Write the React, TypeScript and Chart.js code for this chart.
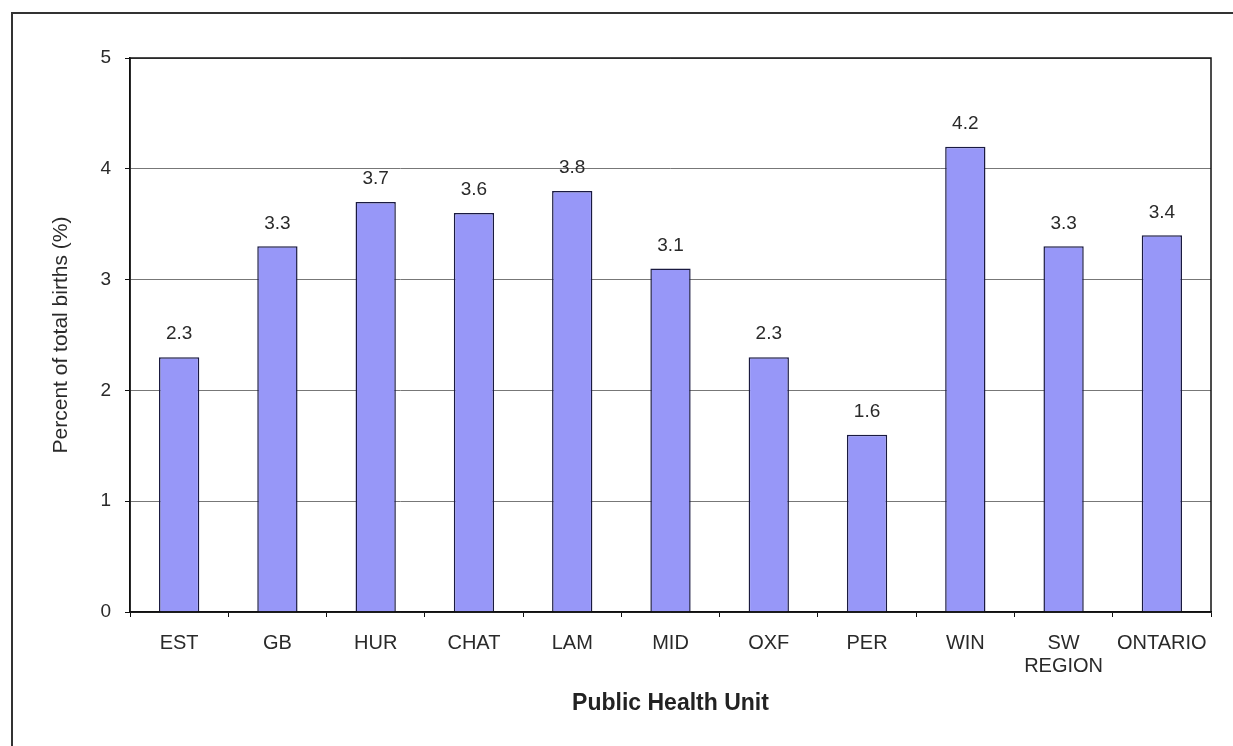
import React, { useEffect, useRef } from "react";
import { Chart, registerables } from "chart.js";

Chart.register(...registerables);

const categories: (string | string[])[] = [
  "EST", "GB", "HUR", "CHAT", "LAM", "MID", "OXF", "PER", "WIN", ["SW", "REGION"], "ONTARIO",
];
const values: number[] = [2.3, 3.3, 3.7, 3.6, 3.8, 3.1, 2.3, 1.6, 4.2, 3.3, 3.4];
const yTicks: number[] = [0, 1, 2, 3, 4, 5];
const xTitle = "Public Health Unit";
const yTitle = "Percent of total births (%)";

const FONT = "'Liberation Sans', Arial, sans-serif";

const valueLabels = {
  id: "valueLabels",
  afterDatasetsDraw(chart: any) {
    const { ctx } = chart;
    const meta = chart.getDatasetMeta(0);
    ctx.save();
    ctx.font = `19px ${FONT}`;
    ctx.fillStyle = "#2a2a2a";
    ctx.textAlign = "center";
    ctx.textBaseline = "middle";
    meta.data.forEach((bar: any, i: number) => {
      ctx.fillText(values[i].toFixed(1), bar.x, bar.y - 23);
    });
    ctx.restore();
  },
};

const frame = {
  id: "frame",
  afterDraw(chart: any) {
    const { ctx, chartArea } = chart;
    ctx.save();
    ctx.strokeStyle = "#111";
    ctx.lineWidth = 1.5;
    ctx.strokeRect(chartArea.left, chartArea.top, chartArea.right - chartArea.left, chartArea.bottom - chartArea.top);
    ctx.restore();
  },
};

export default function App() {
  const ref = useRef<HTMLCanvasElement | null>(null);
  useEffect(() => {
    document.body.style.margin = "0";
    document.body.style.overflow = "hidden";
    const chart = new Chart(ref.current as HTMLCanvasElement, {
      type: "bar",
      data: {
        labels: categories,
        datasets: [
          {
            data: values,
            backgroundColor: "#9797f8",
            borderColor: "#1a1a40",
            borderWidth: 1.5,
            barPercentage: 0.41,
            categoryPercentage: 1,
          },
        ],
      },
      options: {
        responsive: false,
        animation: false,
        layout: { padding: { left: 0, right: 22, top: 58, bottom: 0 } },
        plugins: { legend: { display: false }, tooltip: { enabled: false } },
        scales: {
          x: {
            offset: true,
            grid: {
              offset: true,
              drawOnChartArea: false,
              drawTicks: true,
              tickLength: 5,
              color: "#111",
            },
            border: { display: true, color: "#111", width: 1.5 },
            ticks: {
              color: "#2a2a2a",
              font: { family: FONT, size: 20, lineHeight: 1.15 },
              padding: 15,
              maxRotation: 0,
              autoSkip: false,
            },
            title: {
              display: true,
              text: xTitle,
              color: "#222",
              font: { family: FONT, size: 23, weight: "bold" },
              padding: { top: 0, bottom: 29 },
            },
            afterFit(scale: any) {
              scale.height = 134;
            },
          },
          y: {
            min: 0,
            max: 5,
            afterBuildTicks(scale: any) {
              scale.ticks = yTicks.map((v) => ({ value: v }));
            },
            grid: {
              color: "#777",
              lineWidth: 1,
              tickLength: 5,
              tickColor: "#111",
            },
            border: { display: true, color: "#111", width: 1.5 },
            ticks: {
              color: "#2a2a2a",
              font: { family: FONT, size: 19 },
              padding: 14,
            },
            title: {
              display: true,
              text: yTitle,
              color: "#2a2a2a",
              font: { family: FONT, size: 21 },
              padding: { top: 49, bottom: 0 },
            },
            afterFit(scale: any) {
              scale.width = 130;
            },
          },
        },
      },
      plugins: [valueLabels, frame],
    });
    return () => chart.destroy();
  }, []);

  return (
    <div style={{ position: "relative", width: 1233, height: 746, overflow: "hidden", background: "#fff" }}>
      <div
        style={{
          position: "absolute",
          left: 11,
          top: 12,
          width: 1260,
          height: 780,
          borderLeft: "2px solid #333",
          borderTop: "2px solid #333",
        }}
      />
      <canvas ref={ref} width={1233} height={746} style={{ position: "absolute", left: 0, top: 0 }} />
    </div>
  );
}
